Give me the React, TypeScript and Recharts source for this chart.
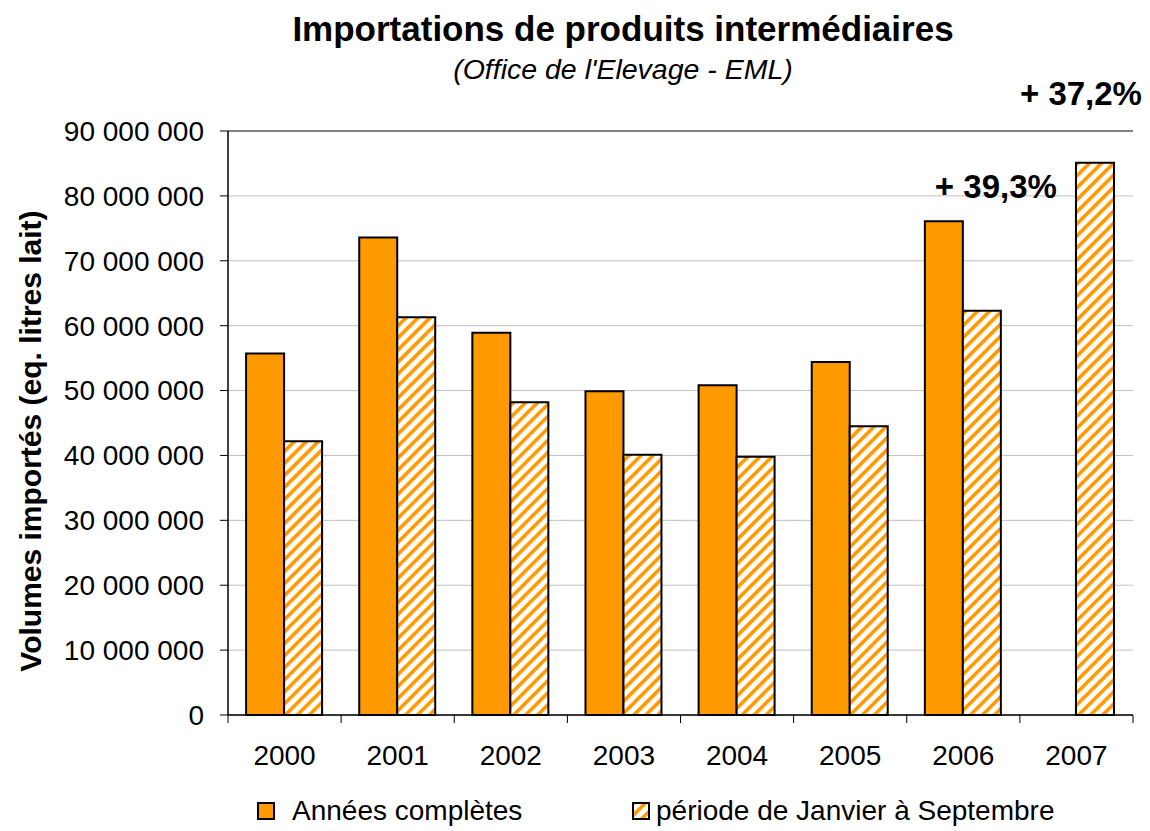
import { Bar, BarChart, CartesianGrid, LabelList, ReferenceLine, XAxis, YAxis } from "recharts";

const years = ["2000", "2001", "2002", "2003", "2004", "2005", "2006", "2007"];
const fullYear = [55.7e6, 73.6e6, 58.9e6, 49.9e6, 50.8e6, 54.4e6, 76.1e6, null];
const janToSep = [42.2e6, 61.3e6, 48.2e6, 40.1e6, 39.8e6, 44.5e6, 62.3e6, 85.1e6];
const fullNotes = ["", "", "", "", "", "", "+ 39,3%", ""];
const partNotes = ["", "", "", "", "", "", "", "+ 37,2%"];
const yTicks = [0, 10e6, 20e6, 30e6, 40e6, 50e6, 60e6, 70e6, 80e6, 90e6];

const data = years.map((year, i) => ({
  year,
  full: fullYear[i],
  part: janToSep[i],
  fullNote: fullNotes[i],
  partNote: partNotes[i],
}));

const FONT = '"Liberation Sans", Arial, sans-serif';
const ORANGE = "#FF9900";
const W = 1150;
const H = 831;
const PLOT_LEFT = 228;
const PLOT_RIGHT = 17;
const PLOT_TOP = 131;
const PLOT_BOTTOM = 116;
const X_AXIS_H = 70;
const Y_AXIS_W = 200;
const BAND = (W - PLOT_LEFT - PLOT_RIGHT) / years.length;

function formatTick(v: number) {
  return String(v).replace(/\B(?=(\d{3})+(?!\d))/g, " ");
}

function XTick(props: any) {
  const { x, y, payload, index } = props;
  const half = BAND / 2;
  return (
    <g>
      <line x1={x - half} y1={y} x2={x - half} y2={y + 8} stroke="#000" strokeWidth={1} />
      {index === years.length - 1 && (
        <line x1={x + half} y1={y} x2={x + half} y2={y + 8} stroke="#000" strokeWidth={1} />
      )}
      <text x={x} y={y + 50} textAnchor="middle" fontSize={28} fontFamily={FONT} fill="#000">
        {payload.value}
      </text>
    </g>
  );
}

function FullNote(props: any) {
  const { x, y, value } = props;
  if (!value) return null;
  return (
    <text x={x + 10} y={y - 23} fontSize={33} fontWeight="bold" fontFamily={FONT} fill="#000">
      {value}
    </text>
  );
}

function PartNote(props: any) {
  const { x, y, width, value } = props;
  if (!value) return null;
  return (
    <text x={x + width / 2 - 14} y={y - 58} textAnchor="middle" fontSize={33} fontWeight="bold" fontFamily={FONT} fill="#000">
      {value}
    </text>
  );
}

export default function App() {
  return (
    <div style={{ position: "absolute", left: 0, top: 0, width: W, height: H, background: "#fff", fontFamily: FONT }}>
      <div style={{ position: "absolute", left: 623 - 400, width: 800, top: 9, textAlign: "center", fontSize: 35, fontWeight: "bold" }}>
        Importations de produits intermédiaires
      </div>
      <div style={{ position: "absolute", left: 623 - 300, width: 600, top: 53, textAlign: "center", fontSize: 28.5, fontStyle: "italic" }}>
        (Office de l'Elevage - EML)
      </div>
      <div
        style={{
          position: "absolute",
          left: 31 - 300,
          top: 441 - 18,
          width: 600,
          height: 36,
          lineHeight: "36px",
          textAlign: "center",
          transform: "rotate(-90deg)",
          fontSize: 30,
          fontWeight: "bold",
        }}
      >
        Volumes importés (eq. litres lait)
      </div>

      <BarChart
        width={W}
        height={H}
        data={data}
        margin={{ top: PLOT_TOP, right: PLOT_RIGHT, bottom: PLOT_BOTTOM - X_AXIS_H, left: PLOT_LEFT - Y_AXIS_W }}
        barGap={0}
        barCategoryGap="16%"
      >
        <CartesianGrid vertical={false} stroke="#c0c0c0" yAxisId="left" />
        <XAxis
          dataKey="year"
          interval={0}
          tickLine={false}
          tickSize={0}
          tickMargin={0}
          tick={<XTick />}
          axisLine={{ stroke: "#000", strokeWidth: 1.5 }}
          height={X_AXIS_H}
        />
        <YAxis
          yAxisId="left"
          width={Y_AXIS_W}
          domain={[0, 90e6]}
          ticks={yTicks}
          interval={0}
          tickFormatter={formatTick}
          tickSize={8}
          tickMargin={16}
          tickLine={{ stroke: "#000" }}
          axisLine={{ stroke: "#000", strokeWidth: 1.5 }}
          tick={{ fontSize: 28, fontFamily: FONT, fill: "#000" }}
        />
        <YAxis
          yAxisId="right"
          orientation="right"
          width={0}
          domain={[0, 90e6]}
          tick={false}
          tickLine={false}
          axisLine={{ stroke: "#808080", strokeWidth: 2 }}
        />
        <ReferenceLine yAxisId="left" y={90e6} stroke="#808080" strokeWidth={2} />
        <defs>
          <pattern id="hatch" patternUnits="userSpaceOnUse" width="8.5" height="8.5" patternTransform="rotate(45)">
            <rect x="0" y="0" width="8.5" height="8.5" fill="#fff" />
            <rect x="0" y="0" width="3.6" height="8.5" fill={ORANGE} />
          </pattern>
        </defs>
        <Bar yAxisId="left" dataKey="full" name="Années complètes" fill={ORANGE} stroke="#000" strokeWidth={2} isAnimationActive={false}>
          <LabelList dataKey="fullNote" content={<FullNote />} />
        </Bar>
        <Bar yAxisId="left" dataKey="part" name="période de Janvier à Septembre" fill="url(#hatch)" stroke="#000" strokeWidth={2} isAnimationActive={false}>
          <LabelList dataKey="partNote" content={<PartNote />} />
        </Bar>
      </BarChart>

      <div style={{ position: "absolute", top: 794, left: 257, display: "flex", alignItems: "center", fontSize: 28, height: 34 }}>
        <span style={{ width: 14, height: 14, background: ORANGE, border: "2px solid #000", marginRight: 17 }} />
        Années complètes
      </div>
      <div style={{ position: "absolute", top: 794, left: 632, display: "flex", alignItems: "center", fontSize: 28, height: 34 }}>
        <svg width={18} height={18} style={{ marginRight: 6 }}>
          <defs>
            <pattern id="hatchLegend" patternUnits="userSpaceOnUse" width="8.5" height="8.5" patternTransform="rotate(45)">
              <rect x="0" y="0" width="8.5" height="8.5" fill="#fff" />
              <rect x="0" y="0" width="3.6" height="8.5" fill={ORANGE} />
            </pattern>
          </defs>
          <rect x={1} y={1} width={16} height={16} fill="url(#hatchLegend)" stroke="#000" strokeWidth={2} />
        </svg>
        période de Janvier à Septembre
      </div>
    </div>
  );
}
